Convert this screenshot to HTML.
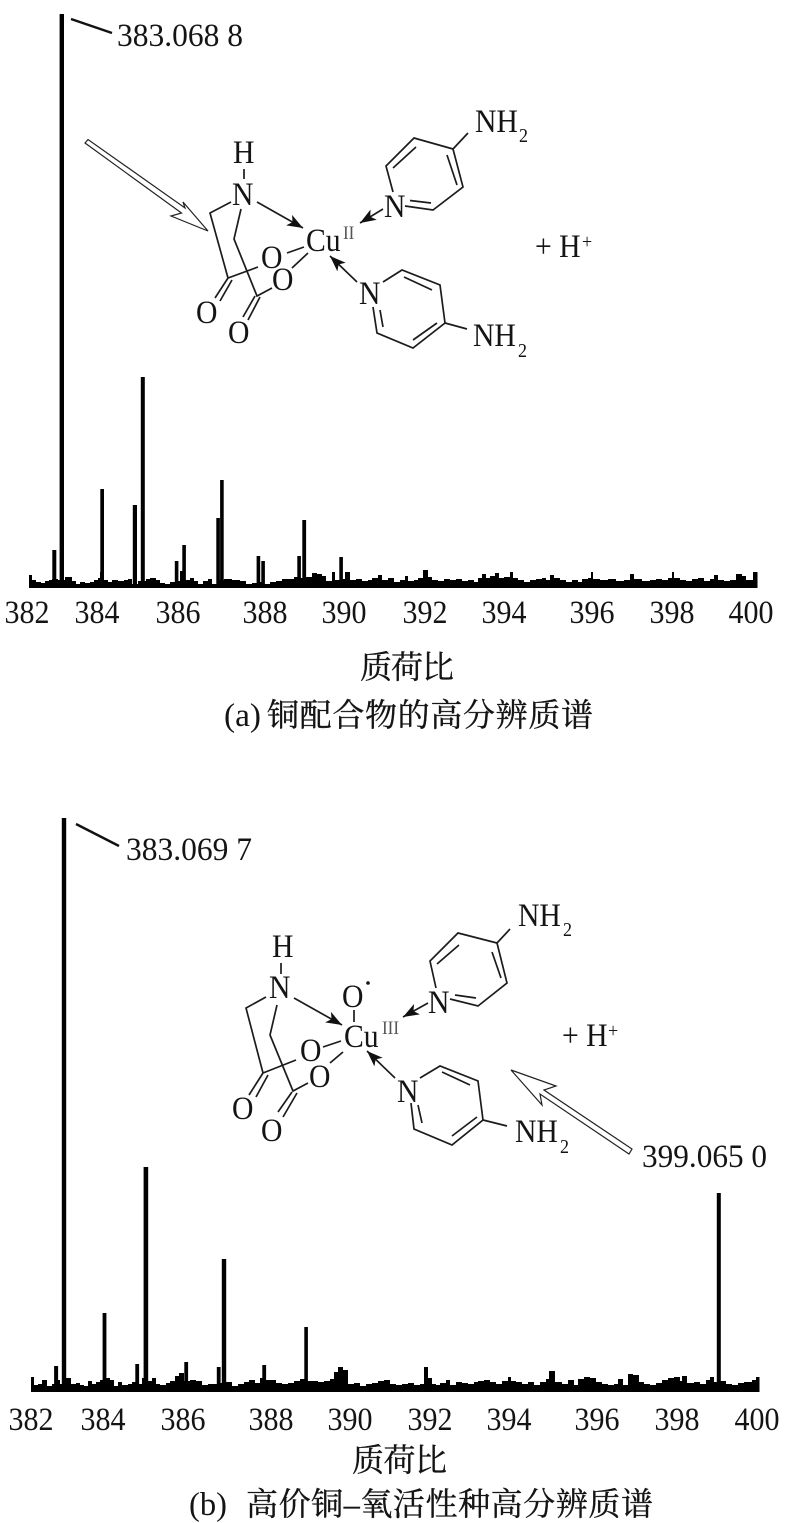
<!DOCTYPE html>
<html lang="zh"><head><meta charset="utf-8"><title>铜配合物高分辨质谱</title>
<style>
html,body{margin:0;padding:0;background:#fff}
svg{display:block}
text{font-family:"Liberation Serif","Noto Serif CJK SC",serif;fill:#141414}
.t,.a,.s,.r{transform-box:fill-box}
.t{font-size:33px;transform:scaleX(.9);transform-origin:0 50%}
.l{font-size:33px}
.s{font-size:20px;transform:scaleX(.9);transform-origin:0 50%}
.r{font-size:19px;fill:#555;transform:scaleX(.9);transform-origin:0 50%}
.a{font-size:33px;text-anchor:middle;transform:scaleX(.91);transform-origin:50% 50%}
.c{font-size:32px;stroke:#141414;stroke-width:.35}
.b{fill:none;stroke:#1c1c1c;stroke-width:1.7}
.h{fill:#fff;stroke:#222;stroke-width:1.2}
</style></head><body>
<svg xmlns="http://www.w3.org/2000/svg" width="800" height="1523" viewBox="0 0 800 1523">
<defs>
<marker id="m" markerUnits="userSpaceOnUse" markerWidth="18" markerHeight="14" refX="16" refY="7" orient="auto"><path d="M0 1 L16 7 L0 13 L4 7 Z" fill="#111"/></marker>
</defs>

<!-- CHART A -->
<g fill="#000">
<path d="M29 588V575H32V580H36V582H41V583H45V581H49V580H52V579H58V580H65V577H72V581H76V584H80V582H85V583H90V582H94V580H98V578H100V572H103V580H108V582H112V580H118V581H124V580H128V579H132V584H138V581H146V579H150V578H156V580H160V583H165V584H170V582H176V581H180V571H184V580H190V578H194V581H198V584H203V581H208V579H212V584H218V580H224V579H232V580H240V581H246V584H252V583H258V582H264V584H270V582H276V581H282V579H288V579H294V577H300V578H306V577H312V573H317V574H322V576H326V581H332V572H335V580H340V579H345V572H350V580H356V579H362V581H368V580H372V578H378V575H382V580H388V578H394V582H400V580H405V576H408V581H414V580H418V578H423V570H428V577H432V580H438V581H444V579H450V580H456V579H462V581H468V580H474V582H478V578H482V574H486V578H490V576H495V573H499V578H504V577H510V572H513V578H518V580H524V582H530V580H536V579H542V578H546V580H550V575H554V578H560V580H566V582H572V580H578V582H582V579H588V578H591V572H593V579H600V580H608V579H616V581H624V580H630V574H634V579H642V581H650V580H656V579H662V580H668V578H672V572H674V578H680V580H686V581H692V579H698V578H704V581H710V579H714V575H718V580H724V581H730V580H736V574H742V576H746V580H753V572H757.5V588Z"/>
<rect x="59.6" y="14" width="4.4" height="570"/>
<rect x="52.3" y="550" width="4" height="34"/>
<rect x="100.3" y="489" width="3.7" height="95"/>
<rect x="132.8" y="505" width="4.2" height="79"/>
<rect x="140.8" y="377" width="4" height="207"/>
<rect x="174.8" y="561" width="3.6" height="23"/>
<rect x="182.3" y="545" width="3.6" height="39"/>
<rect x="216.3" y="518" width="3.6" height="66"/>
<rect x="220.1" y="480" width="3.6" height="104"/>
<rect x="256.6" y="556" width="3.6" height="28"/>
<rect x="261.3" y="561" width="3.6" height="23"/>
<rect x="297.3" y="556" width="3.6" height="28"/>
<rect x="302.3" y="520" width="3.8" height="64"/>
<rect x="339.3" y="557" width="3.6" height="27"/>
</g>
<path d="M71 19 L112 33" stroke="#111" stroke-width="2.4" fill="none"/>
<text class="l" x="117" y="46" textLength="126" lengthAdjust="spacingAndGlyphs">383.068 8</text>

<g class="b">
<path d="M453 149L414 138L386 166L393 192"/><path d="M405 206L433 210L463 187L453 149"/>
<path d="M393 168L416 147M447 155L457 185M410 200.5L431 203M453 149L468 133"/>
<path d="M383 209L360 223" marker-end="url(#m)"/>
<path d="M244 169V179M231 202L210 213L228 278L258 267M228 278L215 298M232 280L220 301"/>
<path d="M287 253L304 247M241 209L234 239L257 296L272 288M255 296L243 317M260 297L248 320M292 268L308 253"/>
<path d="M257 202L303 228" marker-end="url(#m)"/>
<path d="M357 282L330 256" marker-end="url(#m)"/>
<path d="M383 282L402 270L440 285L445 323L413 348L377 333L373 307"/>
<path d="M404 277L432 290M413 340L437 323M380 310L383 327M445 323L467 329"/>
</g>
<path class="h" d="M208 231L183 202L185 208L88 139.5L85 143L181.5 213L171 216Z"/>
<g>
<text class="t" x="475" y="132">NH</text><text class="s" x="519" y="142">2</text>
<text class="t" x="384" y="217">N</text>
<text class="t" x="233" y="163">H</text>
<text class="t" x="232" y="205">N</text>
<text class="t" x="196" y="323">O</text>
<text class="t" x="261" y="268">O</text>
<text class="t" x="228" y="343">O</text>
<text class="t" x="272" y="290">O</text>
<text class="t" x="306" y="251">Cu</text>
<text class="r" x="343" y="239">II</text>
<text class="t" x="359" y="304">N</text>
<text class="t" x="473" y="346">NH</text><text class="s" x="518" y="357">2</text>
<text class="t" x="535" y="257">+ H</text><text class="s" x="582" y="248">+</text>
</g>

<g>
<text class="a" x="27" y="623">382</text><text class="a" x="97" y="623">384</text><text class="a" x="178" y="623">386</text><text class="a" x="265" y="623">388</text><text class="a" x="344" y="623">390</text><text class="a" x="425" y="623">392</text><text class="a" x="504" y="623">394</text><text class="a" x="592" y="623">396</text><text class="a" x="672" y="623">398</text><text class="a" x="751" y="623">400</text>
</g>
<text class="c" x="360" y="678" textLength="94">质荷比</text>
<text class="l" x="224" y="726" textLength="37" lengthAdjust="spacingAndGlyphs">(a)</text>
<text class="c" x="267" y="726" textLength="326">铜配合物的高分辨质谱</text>

<!-- CHART B -->
<g fill="#000">
<path d="M31 1392V1377H34V1385H38V1384H42V1380H47V1386H52V1384H56V1380H60V1384H66V1378H71V1384H76V1383H80V1385H84V1386H88V1381H92V1384H96V1382H100V1380H104V1378H110V1380H114V1386H118V1382H122V1385H128V1384H132V1382H136V1384H142V1378H147V1381H152V1378H156V1384H160V1385H166V1383H170V1381H175V1376H179V1373H184V1381H190V1380H196V1381H202V1385H208V1384H214V1384H220V1383H226V1382H232V1386H238V1384H244V1382H249V1380H255V1383H260V1378H266V1380H270V1380H276V1383H282V1384H288V1383H294V1381H300V1379H306V1381H312V1381H318V1382H324V1381H330V1379H334V1372H338V1367H343V1370H348V1384H354V1383H360V1386H366V1384H372V1383H378V1381H384V1380H390V1384H396V1385H402V1384H408V1383H414V1385H420V1384H424V1367H428V1378H432V1384H436V1385H440V1383H446V1380H450V1385H456V1382H462V1383H468V1384H474V1382H478V1381H484V1380H490V1382H496V1384H502V1381H508V1377H511V1381H516V1382H522V1384H528V1382H534V1385H540V1382H546V1379H549V1371H555V1382H562V1384H568V1380H574V1385H578V1379H584V1377H590V1378H596V1382H602V1384H608V1385H614V1384H618V1379H623V1385H628V1374H633V1375H639V1382H644V1384H650V1385H656V1383H662V1380H668V1378H674V1377H680V1381H682V1376H687V1383H694V1382H700V1384H706V1380H710V1377H714V1382H720V1381H726V1384H732V1385H738V1383H744V1382H752V1380H756V1377H759.5V1392Z"/>
<rect x="61.8" y="818" width="4.4" height="570"/>
<rect x="54.1" y="1366" width="4" height="22"/>
<rect x="102.6" y="1313" width="3.8" height="75"/>
<rect x="135.3" y="1364" width="3.8" height="24"/>
<rect x="143.6" y="1167" width="4.6" height="221"/>
<rect x="184.3" y="1362" width="3.8" height="26"/>
<rect x="216.8" y="1367" width="3.8" height="21"/>
<rect x="221.8" y="1259" width="4.4" height="129"/>
<rect x="262.3" y="1365" width="3.8" height="23"/>
<rect x="304.3" y="1327" width="3.6" height="61"/>
<rect x="716.8" y="1193" width="4" height="195"/>
</g>
<path d="M76 824L119 846" stroke="#111" stroke-width="2.4" fill="none"/>
<text class="l" x="126" y="860" textLength="126" lengthAdjust="spacingAndGlyphs">383.069 7</text>

<g class="b">
<path d="M497 943L458 933L430 961L436 988"/><path d="M450 999L478 1006L507 983L497 943"/>
<path d="M437 964L459 945M492 952L501 978M455 995L476 998M497 943L510 929"/>
<path d="M428 1003L403 1017" marker-end="url(#m)"/>
<path d="M281 963V974M266 997L246 1008L263 1073L296 1060M263 1073L249 1095M268 1075L256 1097"/>
<path d="M323 1047L341 1041M277 1005L270 1035L293 1091L308 1083M292 1092L278 1112M297 1093L283 1117M330 1063L343 1052M354 1010V1022"/>
<path d="M294 998L342 1025" marker-end="url(#m)"/>
<path d="M395 1078L367 1051" marker-end="url(#m)"/>
<path d="M420 1078L440 1066L478 1081L483 1120L452 1145L414 1129L411 1103"/>
<path d="M442 1072L470 1085M477 1117L452 1136M418 1105L422 1123M483 1120L507 1126"/>
</g>
<circle cx="368" cy="983" r="1.8" fill="#111"/>
<path class="h" d="M511 1070L556 1086L544 1090L632 1149L629 1154L540 1094L542 1105Z"/>
<g>
<text class="t" x="518" y="926">NH</text><text class="s" x="563" y="936">2</text>
<text class="t" x="428" y="1013">N</text>
<text class="t" x="272" y="957">H</text>
<text class="t" x="269" y="998">N</text>
<text class="t" x="232" y="1119">O</text>
<text class="t" x="300" y="1061">O</text>
<text class="t" x="261" y="1141">O</text>
<text class="t" x="309" y="1087">O</text>
<text class="t" x="342" y="1007">O</text>
<text class="t" x="344" y="1047">Cu</text>
<text class="r" x="382" y="1034">III</text>
<text class="t" x="397" y="1102">N</text>
<text class="t" x="515" y="1142">NH</text><text class="s" x="560" y="1153">2</text>
<text class="t" x="562" y="1046">+ H</text><text class="s" x="608" y="1037">+</text>
</g>
<text class="l" x="642" y="1167" textLength="125" lengthAdjust="spacingAndGlyphs">399.065 0</text>

<g>
<text class="a" x="31" y="1430">382</text><text class="a" x="103" y="1430">384</text><text class="a" x="183" y="1430">386</text><text class="a" x="271" y="1430">388</text><text class="a" x="350" y="1430">390</text><text class="a" x="430" y="1430">392</text><text class="a" x="509" y="1430">394</text><text class="a" x="597" y="1430">396</text><text class="a" x="677" y="1430">398</text><text class="a" x="757" y="1430">400</text>
</g>
<text class="c" x="352" y="1471" textLength="95">质荷比</text>
<text class="l" x="189" y="1515" textLength="38" lengthAdjust="spacingAndGlyphs">(b)</text>
<text class="c" x="246" y="1515" textLength="407">高价铜–氧活性种高分辨质谱</text>
</svg>
</body></html>
